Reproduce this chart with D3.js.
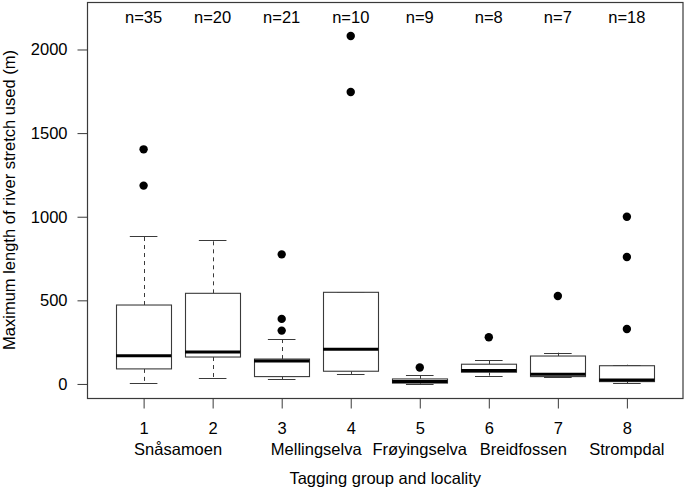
<!DOCTYPE html>
<html>
<head>
<meta charset="utf-8">
<script src="https://cdn.jsdelivr.net/npm/d3@7"></script>
<style>
  html, body { margin: 0; padding: 0; background: #fff; }
  svg { display: block; font-family: "Liberation Sans", Arial, sans-serif; }
</style>
</head>
<body>
<svg id="chart" width="685" height="489"></svg>
<script>
// ---- data ----
const groups       = [1, 2, 3, 4, 5, 6, 7, 8];
const counts       = [35, 20, 21, 10, 9, 8, 7, 18];
const whiskerLow   = [6, 34, 28, 60, 0, 50, 40, 4];
const q1           = [90, 161, 44, 76, 5, 70, 44, 14];
const medians      = [169, 191, 137, 207, 15, 80, 58, 24];
const q3           = [472, 542, 149, 548, 30, 118, 167, 109];
const whiskerHigh  = [887, 861, 271, 548, 52, 145, 187, 115];
const outliers     = [[1403, 1186], [], [775, 389, 319], [2081, 1746], [98], [279], [526], [1000, 759, 329]];
const localities   = ["Snåsamoen", "Mellingselva", "Frøyingselva", "Breidfossen", "Strompdal"];
const localityPos  = [1.5, 3.5, 5, 6.5, 8];
const yTicks       = [0, 500, 1000, 1500, 2000];
const yTitle = "Maximum length of river stretch used (m)";
const xTitle = "Tagging group and locality";

// ---- layout ----
const svg = d3.select("#chart");
const FS = 16.5;
const pLeft = 87, pRight = 683.5, pTop = 2, pBottom = 398;
const x = d3.scaleLinear().domain([0.18, 8.82]).range([pLeft, pRight]);
const y = d3.scaleLinear().domain([-84, 2284]).range([pBottom, pTop]);
const lineCol = "#3a3a3a";
const boxHalf = (x(1.4) - x(1));
const capHalf = (x(1.2) - x(1));
const px = v => Math.round(v) + 0.5;

const data = groups.map((g, i) => ({
  g, n: counts[i], lo: whiskerLow[i], q1: q1[i], med: medians[i], q3: q3[i], hi: whiskerHigh[i], out: outliers[i]
}));

const plot = svg.append("g");

const gb = plot.selectAll("g.box").data(data).enter().append("g").attr("class", "box");

// whiskers (dashed)
gb.append("line")
  .attr("x1", d => px(x(d.g))).attr("x2", d => px(x(d.g)))
  .attr("y1", d => y(d.q3)).attr("y2", d => y(d.hi))
  .attr("stroke", lineCol).attr("stroke-width", 1).attr("stroke-dasharray", "4,4");
gb.append("line")
  .attr("x1", d => px(x(d.g))).attr("x2", d => px(x(d.g)))
  .attr("y1", d => y(d.q1)).attr("y2", d => y(d.lo))
  .attr("stroke", lineCol).attr("stroke-width", 1).attr("stroke-dasharray", "4,4");
// caps
gb.append("line")
  .attr("x1", d => x(d.g) - capHalf).attr("x2", d => x(d.g) + capHalf)
  .attr("y1", d => px(y(d.hi))).attr("y2", d => px(y(d.hi)))
  .attr("stroke", lineCol).attr("stroke-width", 1);
gb.append("line")
  .attr("x1", d => x(d.g) - capHalf).attr("x2", d => x(d.g) + capHalf)
  .attr("y1", d => px(y(d.lo))).attr("y2", d => px(y(d.lo)))
  .attr("stroke", lineCol).attr("stroke-width", 1);
// boxes
gb.append("rect")
  .attr("x", d => px(x(d.g) - boxHalf))
  .attr("width", d => Math.round(2 * boxHalf))
  .attr("y", d => y(d.q3))
  .attr("height", d => y(d.q1) - y(d.q3))
  .attr("fill", "#fff").attr("stroke", lineCol).attr("stroke-width", 1.1);
// medians
gb.append("line")
  .attr("x1", d => x(d.g) - boxHalf).attr("x2", d => x(d.g) + boxHalf)
  .attr("y1", d => y(d.med)).attr("y2", d => y(d.med))
  .attr("stroke", "#000").attr("stroke-width", 3);
// outliers
gb.selectAll("circle").data(d => d.out.map(v => ({ g: d.g, v }))).enter().append("circle")
  .attr("cx", d => x(d.g)).attr("cy", d => y(d.v)).attr("r", 4.2).attr("fill", "#000");

// n labels
plot.selectAll("text.n").data(data).enter().append("text")
  .attr("x", d => x(d.g)).attr("y", 23)
  .attr("text-anchor", "middle").attr("font-size", FS)
  .text(d => "n=" + d.n);

// frame
svg.append("rect")
  .attr("x", pLeft + 0.5).attr("y", pTop + 0.5)
  .attr("width", pRight - pLeft - 1).attr("height", pBottom - pTop)
  .attr("fill", "none").attr("stroke", lineCol).attr("stroke-width", 1.2);

// y axis
const yAxis = d3.axisLeft(y).tickValues(yTicks).tickSize(10).tickPadding(10).tickFormat(d3.format("d"));
const ya = svg.append("g").attr("transform", `translate(${pLeft + 0.5},0)`).call(yAxis);
ya.select(".domain").remove();
ya.selectAll(".tick line").attr("stroke", lineCol);
ya.selectAll(".tick text").attr("font-size", FS).attr("font-family", "Liberation Sans, Arial, sans-serif").attr("fill", "#000");

// x axis
const xAxis = d3.axisBottom(x).tickValues(groups).tickSize(10).tickPadding(14).tickFormat(d3.format("d"));
const xa = svg.append("g").attr("transform", `translate(0,${pBottom + 0.5})`).call(xAxis);
xa.select(".domain").remove();
xa.selectAll(".tick line").attr("stroke", lineCol);
xa.selectAll(".tick text").attr("font-size", FS).attr("font-family", "Liberation Sans, Arial, sans-serif").attr("fill", "#000");

// locality labels
svg.selectAll("text.loc").data(localities).enter().append("text")
  .attr("x", (d, i) => x(localityPos[i])).attr("y", 455)
  .attr("text-anchor", "middle").attr("font-size", FS)
  .text(d => d);

// axis titles
svg.append("text").attr("x", (pLeft + pRight) / 2).attr("y", 484)
  .attr("text-anchor", "middle").attr("font-size", FS).text(xTitle);
svg.append("text")
  .attr("transform", `translate(15,${(pTop + pBottom) / 2}) rotate(-90)`)
  .attr("text-anchor", "middle").attr("font-size", FS).text(yTitle);
</script>
</body>
</html>
